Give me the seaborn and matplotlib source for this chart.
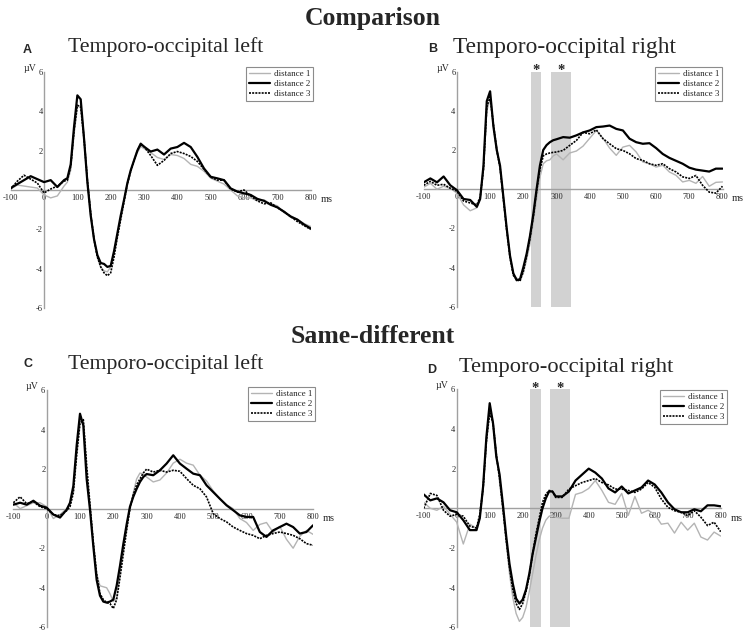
import matplotlib
matplotlib.use('Agg')
import matplotlib.pyplot as plt
import seaborn as sns

sns.set_style('white')
plt.rcParams['font.family'] = ['Liberation Serif', 'DejaVu Serif']

# time axis (ms): 20 ms steps, 10 ms steps around the P1 / N1 peaks
time_ms = [-100, -80, -60, -40, -20, 0, 20, 40, 60,
           70, 80, 90, 100, 110, 120, 130, 140, 150, 160, 170, 180, 190, 200,
           210, 220, 230, 240, 250, 260, 270, 280, 290, 300,
           320, 340, 360, 380, 400, 420, 440, 460, 480, 500, 520, 540, 560,
           580, 600, 620, 640, 660, 680, 700, 720, 740, 760, 780, 800]

conditions = ['distance 1', 'distance 2', 'distance 3']

# Comparison task, temporo-occipital left (panel A), microvolts
cmp_left_d1 = [0.05, 0.25, 0.2, 0.15, 0.1, -0.25, -0.4, -0.3, 0.2,
               0.4, 1.0, 2.8, 4.2, 4.3, 2.8, 0.6, -1.1, -2.5, -3.4, -3.9, -4.1, -4.15, -3.9,
               -3.2, -2.3, -1.4, -0.5, 0.3, 0.95, 1.5, 1.9, 2.2, 2.1,
               1.9, 1.65, 1.55, 1.8, 1.75, 1.6, 1.3, 1.2, 0.95, 0.6, 0.45, 0.3, 0.0,
               -0.3, -0.4, -0.4, -0.55, -0.5, -0.7, -0.8, -1.15, -1.3, -1.5, -1.7, -1.85]
cmp_left_d2 = [0.1, 0.3, 0.5, 0.7, 0.55, 0.4, 0.5, 0.15, 0.5,
               0.6, 1.3, 3.2, 4.8, 4.6, 2.6, 0.4, -1.3, -2.5, -3.3, -3.7, -3.75, -3.9, -3.85,
               -3.1, -2.2, -1.3, -0.5, 0.35, 1.0, 1.5, 2.0, 2.35, 2.2,
               1.95, 2.05, 1.8, 2.1, 2.18, 2.39, 2.18, 1.68, 1.09, 0.67, 0.59, 0.5, 0.08,
               -0.08, -0.17, -0.25, -0.45, -0.55, -0.75, -0.88, -1.1, -1.35, -1.5, -1.75, -1.95]
cmp_left_d3 = [0.05, 0.45, 0.75, 0.55, 0.35, -0.15, 0.05, 0.2, 0.45,
               0.5, 1.2, 3.0, 4.3, 4.2, 2.6, 0.5, -1.2, -2.5, -3.4, -3.9, -4.2, -4.35, -4.2,
               -3.4, -2.4, -1.5, -0.6, 0.3, 0.95, 1.5, 2.0, 2.3, 2.2,
               1.75, 1.25, 1.5, 1.85, 1.95, 1.85, 1.7, 1.45, 1.05, 0.65, 0.5, 0.5, 0.05,
               -0.1, 0.0, -0.3, -0.55, -0.7, -0.65, -0.9, -1.1, -1.35, -1.6, -1.8, -2.0]

# Comparison task, temporo-occipital right (panel B)
cmp_right_d1 = [0.1, 0.3, 0.0, 0.15, 0.05, -0.2, -0.8, -1.1, -0.95,
                -0.5, 1.0, 4.0, 4.6, 3.3, 2.2, 1.0, -0.4, -2.0, -3.4, -4.3, -4.55, -4.6, -4.3,
                -3.6, -2.8, -1.7, -0.5, 0.6, 1.3, 1.45, 1.5, 1.7, 1.8,
                1.5, 1.85, 1.95, 2.2, 2.6, 3.0, 2.6, 2.1, 1.73, 2.15, 2.24, 1.9, 1.39,
                1.3, 1.13, 1.22, 0.88, 0.71, 0.37, 0.45, 0.3, 0.65, 0.15, 0.35, 0.37]
cmp_right_d2 = [0.35, 0.55, 0.35, 0.65, 0.2, -0.05, -0.5, -0.55, -0.9,
                -0.5, 1.2, 4.5, 5.0, 3.2, 2.0, 1.2, -0.4, -2.0, -3.4, -4.3, -4.65, -4.6, -4.0,
                -3.3, -2.4, -1.3, 0.0, 1.2, 2.0, 2.25, 2.4, 2.5, 2.55,
                2.66, 2.63, 2.75, 2.9, 3.0, 3.17, 3.2, 3.25, 3.08, 3.0, 2.58, 2.4, 2.32,
                2.35, 2.1, 1.8, 1.6, 1.45, 1.3, 1.1, 1.0, 0.95, 0.9, 1.05, 1.05]
cmp_right_d3 = [0.2, 0.4, 0.2, 0.25, 0.05, -0.1, -0.6, -0.7, -0.8,
                -0.4, 1.0, 4.2, 4.7, 3.3, 2.0, 1.1, -0.5, -2.1, -3.5, -4.4, -4.6, -4.7, -4.2,
                -3.4, -2.5, -1.4, -0.1, 1.0, 1.7, 1.8, 1.85, 1.88, 1.9,
                1.98, 2.24, 2.49, 2.9, 2.83, 3.03, 2.58, 2.32, 2.07, 1.98, 1.81, 1.56, 1.47,
                1.3, 1.22, 1.3, 1.05, 0.88, 0.63, 0.55, 0.7, 0.2, -0.15, -0.2, 0.15]

# Same-different task, temporo-occipital left (panel C)
sd_left_d1 = [0.3, 0.0, 0.15, 0.3, 0.3, 0.1, -0.5, -0.3, 0.0,
              0.2, 0.9, 2.8, 4.4, 4.4, 2.0, 0.0, -1.8, -3.3, -3.9, -3.95, -4.0, -4.3, -4.7,
              -4.5, -3.3, -2.1, -1.0, 0.0, 0.8, 1.5, 1.8, 1.75, 1.6,
              1.35, 1.45, 1.8, 2.3, 2.5, 2.3, 2.2, 1.7, 1.4, 0.9, 0.5, 0.2, 0.0,
              -0.5, -0.7, -1.1, -0.8, -0.7, -1.2, -0.9, -1.55, -2.0, -1.4, -1.1, -1.3]
sd_left_d2 = [0.2, 0.3, 0.2, 0.4, 0.15, 0.05, -0.3, -0.45, -0.05,
              0.3, 1.15, 3.2, 4.8, 4.2, 1.5, -0.05, -1.9, -3.6, -4.4, -4.7, -4.75, -4.7, -4.6,
              -3.9, -2.9, -1.8, -0.8, 0.1, 0.6, 1.0, 1.35, 1.6, 1.75,
              1.69, 1.94, 2.28, 2.7, 2.28, 2.02, 1.77, 1.69, 1.18, 0.84, 0.5, 0.17, -0.08,
              -0.34, -0.42, -0.42, -1.18, -1.43, -1.1, -0.93, -0.76, -0.93, -1.26, -1.18, -0.84]
sd_left_d3 = [0.3, 0.6, 0.25, 0.35, 0.1, 0.0, -0.3, -0.35, -0.1,
              0.1, 0.8, 2.7, 4.3, 4.5, 2.2, 0.2, -1.7, -3.3, -4.3, -4.6, -4.75, -4.8, -5.05,
              -4.6, -3.5, -2.3, -1.1, 0.0, 0.7, 1.2, 1.5, 1.8, 2.0,
              1.85, 1.94, 1.85, 1.94, 1.89, 1.52, 1.18, 1.01, 0.59, -0.25, -0.5, -0.67, -0.93,
              -1.1, -1.26, -1.35, -1.52, -1.35, -1.26, -1.18, -1.26, -1.35, -1.52, -1.77, -1.85]

# Same-different task, temporo-occipital right (panel D)
sd_right_d1 = [0.3, 0.0, -0.1, 0.1, -0.3, -0.7, -1.8, -0.8, -1.0,
               -0.5, 0.9, 3.3, 4.9, 4.4, 2.9, 1.3, -0.1, -1.7, -3.3, -4.5, -5.3, -5.7, -5.5,
               -5.0, -4.2, -3.3, -2.4, -1.6, -1.0, -0.6, -0.4, -0.35, -0.45,
               -0.5, -0.5, 0.7, 0.8, 1.0, 1.4, 0.9, 0.3, 0.2, 0.75, -0.35, 0.6, -0.25,
               -0.1, -0.3, -0.8, -0.75, -1.25, -0.7, -1.1, -0.75, -1.45, -1.6, -1.2, -1.4]
sd_right_d2 = [0.7, 0.4, 0.5, 0.3, -0.1, -0.2, -0.6, -1.1, -1.1,
               -0.5, 1.1, 3.6, 5.3, 4.3, 2.6, 1.7, 0.2, -1.4, -2.8, -3.8, -4.55, -4.8, -4.6,
               -4.1, -3.3, -2.3, -1.5, -0.7, 0.0, 0.5, 0.85, 0.85, 0.6,
               0.6, 0.85, 1.4, 1.7, 2.0, 1.8, 1.5, 1.0, 0.8, 1.1, 0.75, 0.9, 1.05,
               1.4, 1.2, 0.8, 0.3, -0.05, -0.2, -0.2, -0.05, -0.15, 0.15, 0.15, 0.1]
sd_right_d3 = [0.0, 0.75, 0.65, -0.1, -0.4, -0.3, -0.4, -0.9, -1.0,
               -0.3, 1.0, 3.4, 4.8, 4.3, 2.7, 1.5, 0.0, -1.6, -3.0, -4.1, -4.8, -5.1, -4.8,
               -4.2, -3.4, -2.3, -1.3, -0.5, 0.3, 0.7, 0.9, 0.85, 0.55,
               0.55, 0.97, 1.14, 1.3, 1.4, 1.5, 1.3, 1.18, 0.97, 0.97, 0.9, 0.8, 0.97,
               1.3, 1.06, 0.47, 0.05, -0.12, -0.2, -0.37, -0.12, -0.45, -0.87, -0.7, -1.18]

# significant time windows (ms) on the right-hemisphere panels
sig_windows = [(222, 254), (284, 344)]

x_ticks = [-100, 0, 100, 200, 300, 400, 500, 600, 700, 800]
y_ticks = [-6, -4, -2, 0, 2, 4, 6]
y_tick_labels = ['-6', '-4', '-2', '', '2', '4', '6']

W, H = 746, 634


def px_box(left, top, right, bottom):
    return [left / W, 1 - bottom / H, (right - left) / W, (bottom - top) / H]


panels = [
    dict(letter='A', title='Temporo-occipital left', box=(10.7, 71.7, 310.7, 308.3),
         series=[cmp_left_d1, cmp_left_d2, cmp_left_d3], legend=(313, 67),
         letter_xy=(23, 53), title_xy=(68, 52), title_size=15.7, sig=False),
    dict(letter='B', title='Temporo-occipital right', box=(423.7, 71.7, 722.5, 306.7),
         series=[cmp_right_d1, cmp_right_d2, cmp_right_d3], legend=(722, 67),
         letter_xy=(428, 52), title_xy=(453, 53), title_size=16.8, sig=True),
    dict(letter='C', title='Temporo-occipital left', box=(13.4, 390, 313.1, 627.3),
         series=[sd_left_d1, sd_left_d2, sd_left_d3], legend=(315, 387),
         letter_xy=(23, 367), title_xy=(68, 369), title_size=15.7, sig=False),
    dict(letter='D', title='Temporo-occipital right', box=(423.7, 389.3, 720.7, 627.3),
         series=[sd_right_d1, sd_right_d2, sd_right_d3], legend=(727, 390),
         letter_xy=(427, 373), title_xy=(459, 372), title_size=16.2, sig=True),
]

line_styles = [
    dict(color='#b4b4b4', lw=1.0, ls='-'),
    dict(color='black', lw=1.6, ls='-'),
    dict(color='black', lw=1.2, ls=(0, (1.2, 0.7))),
]

fig = plt.figure(figsize=(W / 100, H / 100), dpi=100)

for p in panels:
    ax = fig.add_axes(px_box(*p['box']))
    ax.set_xlim(-100, 800)
    ax.set_ylim(-6, 6)

    if p['sig']:
        for start, end in sig_windows:
            ax.axvspan(start, end, color='#d2d2d2', lw=0, zorder=0)
            ax.text((start + end) / 2, 5.86, '*', ha='center', va='baseline',
                    fontsize=10.5, fontweight='bold', clip_on=False)

    handles = []
    for vals, name, st in zip(p['series'], conditions, line_styles):
        sns.lineplot(x=time_ms, y=vals, ax=ax, color=st['color'], lw=st['lw'],
                     zorder=3)
        line = ax.lines[-1]
        line.set_linestyle(st['ls'])
        line.set_label(name)
        handles.append(line)

    for side in ['top', 'right']:
        ax.spines[side].set_visible(False)
    ax.spines['left'].set_position(('data', 0))
    ax.spines['bottom'].set_position(('data', 0))
    for side in ['left', 'bottom']:
        ax.spines[side].set_color('#a0a0a0')
        ax.spines[side].set_linewidth(1.0)
        ax.spines[side].set_zorder(1)

    ax.set_xticks(x_ticks)
    ax.set_xticklabels([str(t) for t in x_ticks])
    ax.set_yticks(y_ticks)
    ax.set_yticklabels(y_tick_labels)
    ax.tick_params(axis='both', labelsize=6, length=2.5, width=0.6,
                   color='#909090', direction='in')
    ax.tick_params(axis='x', pad=3)
    ax.tick_params(axis='y', pad=1)
    ax.set_xlabel('')
    ax.set_ylabel('')

    ax.text(-24, 6.05, 'µV', ha='right', va='baseline', fontsize=7, clip_on=False)
    ax.text(829, -0.5, 'ms', ha='left', va='center', fontsize=7.5, clip_on=False)

    lx, ly = p['legend']
    ax.legend(handles=handles, loc='upper right',
              bbox_to_anchor=(lx / W, 1 - ly / H), bbox_transform=fig.transFigure,
              fontsize=6.5, frameon=True, fancybox=False, edgecolor='#8c8c8c',
              framealpha=1, handlelength=2.4, handletextpad=0.4, borderpad=0.3,
              labelspacing=0.2, borderaxespad=0)
    ax.get_legend().get_frame().set_linewidth(0.8)

    fig.text(p['letter_xy'][0] / W, 1 - p['letter_xy'][1] / H, p['letter'],
             family=['Liberation Sans', 'DejaVu Sans'], fontweight='bold',
             fontsize=9, va='baseline', ha='left')
    fig.text(p['title_xy'][0] / W, 1 - p['title_xy'][1] / H, p['title'],
             fontsize=p['title_size'], va='baseline', ha='left')

fig.text(0.5, 1 - 25 / H, 'Comparison', ha='center', va='baseline',
         fontsize=18.5, fontweight='bold')
fig.text(0.5, 1 - 343 / H, 'Same-different', ha='center', va='baseline',
         fontsize=18.5, fontweight='bold')

fig.savefig('out.png', dpi=100)
